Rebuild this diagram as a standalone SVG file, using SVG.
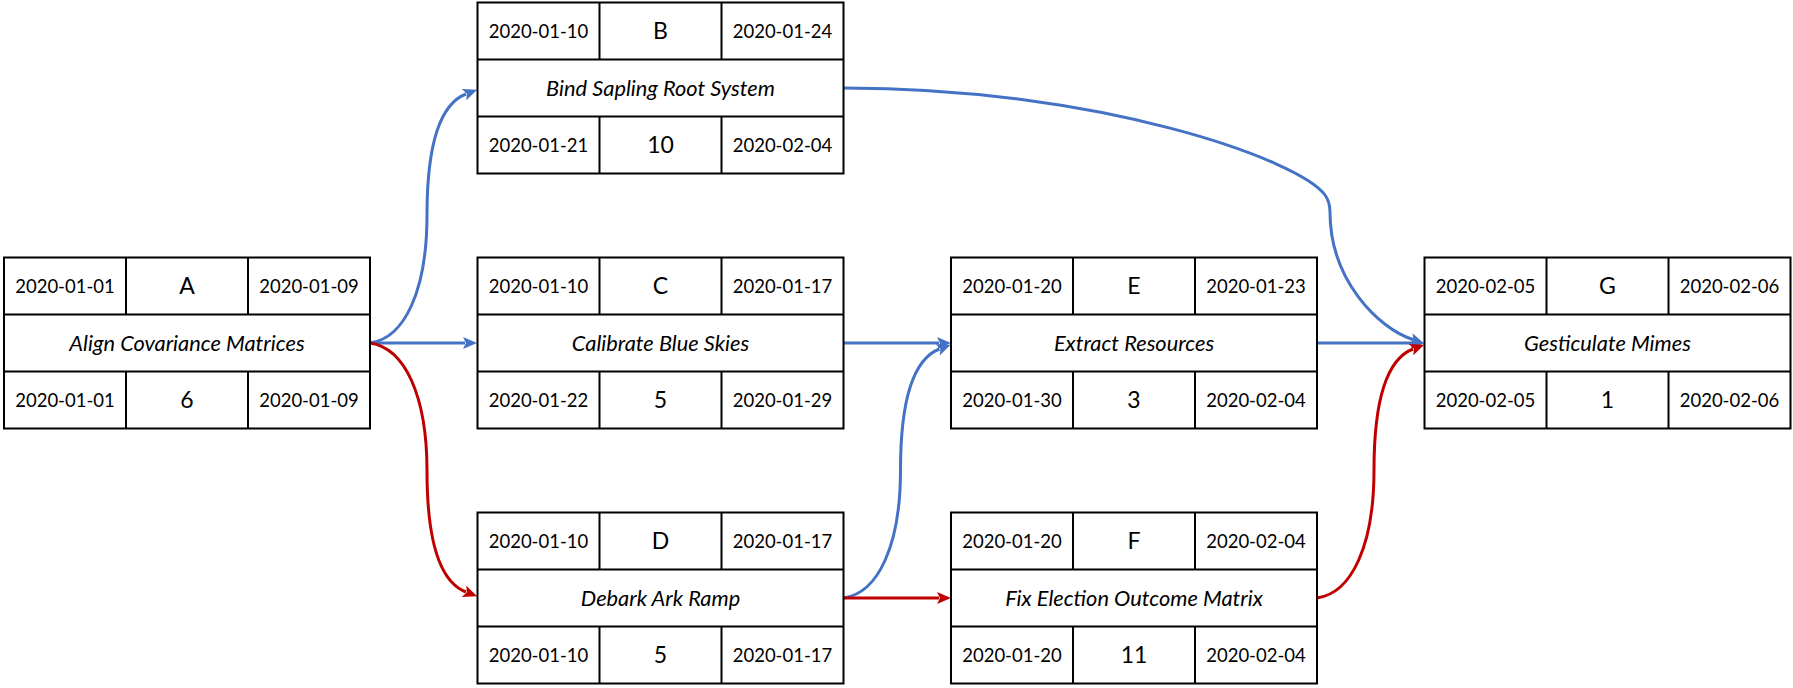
<svg xmlns="http://www.w3.org/2000/svg" width="1793" height="688" viewBox="0 0 1793 688">
<style>
.box{fill:#fff;stroke:#000;stroke-width:2}
.ln{stroke:#000;stroke-width:2}
.d{font-family:Lato,"Liberation Sans",sans-serif;font-size:18.5px;fill:#000;text-anchor:middle}
.k{font-family:Lato,"Liberation Sans",sans-serif;font-size:23px;fill:#000;text-anchor:middle}
.n{font-family:Lato,"Liberation Sans",sans-serif;font-size:21.8px;font-style:italic;fill:#000;text-anchor:middle}
.blue{fill:none;stroke:#4472C4;stroke-width:3}
.red{fill:none;stroke:#C00000;stroke-width:3}
</style>
<defs>
<marker id="ab" markerUnits="userSpaceOnUse" markerWidth="14" markerHeight="12" refX="2" refY="6" orient="auto" viewBox="0 0 14 12">
<path d="M0,0 L14,6 L0,12 L3,6 Z" fill="#4472C4"/>
</marker>
<marker id="ar" markerUnits="userSpaceOnUse" markerWidth="14" markerHeight="12" refX="2" refY="6" orient="auto" viewBox="0 0 14 12">
<path d="M0,0 L14,6 L0,12 L3,6 Z" fill="#C00000"/>
</marker>
</defs>
<g id="connectors">
<path class="blue" marker-end="url(#ab)" d="M370,343 C405,338 427,290 427,215 C427,145 440,104 466,94"/>
<path class="blue" marker-end="url(#ab)" d="M370,343 L465,343"/>
<path class="red" marker-end="url(#ar)" d="M370,343 C405,348 427,396 427,471 C427,541 440,582 466,592"/>
<path class="blue" marker-end="url(#ab)" d="M843.5,88 C1100,88 1300,160 1325,195 Q1330,202 1330,212 C1330,280 1378,328 1412.5,339.5"/>
<path class="blue" marker-end="url(#ab)" d="M843.5,343 L939,343"/>
<path class="blue" marker-end="url(#ab)" d="M843.5,598 C878.5,593 900.5,545 900.5,470 C900.5,400 913.5,359 939.5,349"/>
<path class="red" marker-end="url(#ar)" d="M843.5,598 L939,598"/>
<path class="blue" marker-end="url(#ab)" d="M1317,343 L1412.5,343"/>
<path class="red" marker-end="url(#ar)" d="M1317,598 C1352,593 1374,545 1374,470 C1374,400 1387,359 1413,349"/>
</g>
<g id="node-A" transform="translate(4,257.5)">
<rect class="box" width="366" height="171"/>
<line class="ln" x1="0" y1="57" x2="366" y2="57"/><line class="ln" x1="0" y1="114" x2="366" y2="114"/>
<line class="ln" x1="122" y1="0" x2="122" y2="57"/><line class="ln" x1="244" y1="0" x2="244" y2="57"/>
<line class="ln" x1="122" y1="114" x2="122" y2="171"/><line class="ln" x1="244" y1="114" x2="244" y2="171"/>
<text class="d" x="61" y="35.1">2020-01-01</text><text class="k" x="183" y="36.7">A</text><text class="d" x="305" y="35.1">2020-01-09</text>
<text class="n" x="183" y="93">Align Covariance Matrices</text>
<text class="d" x="61" y="149.1">2020-01-01</text><text class="k" x="183" y="150.7">6</text><text class="d" x="305" y="149.1">2020-01-09</text>
</g>
<g id="node-B" transform="translate(477.5,2.5)">
<rect class="box" width="366" height="171"/>
<line class="ln" x1="0" y1="57" x2="366" y2="57"/><line class="ln" x1="0" y1="114" x2="366" y2="114"/>
<line class="ln" x1="122" y1="0" x2="122" y2="57"/><line class="ln" x1="244" y1="0" x2="244" y2="57"/>
<line class="ln" x1="122" y1="114" x2="122" y2="171"/><line class="ln" x1="244" y1="114" x2="244" y2="171"/>
<text class="d" x="61" y="35.1">2020-01-10</text><text class="k" x="183" y="36.7">B</text><text class="d" x="305" y="35.1">2020-01-24</text>
<text class="n" x="183" y="93">Bind Sapling Root System</text>
<text class="d" x="61" y="149.1">2020-01-21</text><text class="k" x="183" y="150.7">10</text><text class="d" x="305" y="149.1">2020-02-04</text>
</g>
<g id="node-C" transform="translate(477.5,257.5)">
<rect class="box" width="366" height="171"/>
<line class="ln" x1="0" y1="57" x2="366" y2="57"/><line class="ln" x1="0" y1="114" x2="366" y2="114"/>
<line class="ln" x1="122" y1="0" x2="122" y2="57"/><line class="ln" x1="244" y1="0" x2="244" y2="57"/>
<line class="ln" x1="122" y1="114" x2="122" y2="171"/><line class="ln" x1="244" y1="114" x2="244" y2="171"/>
<text class="d" x="61" y="35.1">2020-01-10</text><text class="k" x="183" y="36.7">C</text><text class="d" x="305" y="35.1">2020-01-17</text>
<text class="n" x="183" y="93">Calibrate Blue Skies</text>
<text class="d" x="61" y="149.1">2020-01-22</text><text class="k" x="183" y="150.7">5</text><text class="d" x="305" y="149.1">2020-01-29</text>
</g>
<g id="node-D" transform="translate(477.5,512.5)">
<rect class="box" width="366" height="171"/>
<line class="ln" x1="0" y1="57" x2="366" y2="57"/><line class="ln" x1="0" y1="114" x2="366" y2="114"/>
<line class="ln" x1="122" y1="0" x2="122" y2="57"/><line class="ln" x1="244" y1="0" x2="244" y2="57"/>
<line class="ln" x1="122" y1="114" x2="122" y2="171"/><line class="ln" x1="244" y1="114" x2="244" y2="171"/>
<text class="d" x="61" y="35.1">2020-01-10</text><text class="k" x="183" y="36.7">D</text><text class="d" x="305" y="35.1">2020-01-17</text>
<text class="n" x="183" y="93">Debark Ark Ramp</text>
<text class="d" x="61" y="149.1">2020-01-10</text><text class="k" x="183" y="150.7">5</text><text class="d" x="305" y="149.1">2020-01-17</text>
</g>
<g id="node-E" transform="translate(951,257.5)">
<rect class="box" width="366" height="171"/>
<line class="ln" x1="0" y1="57" x2="366" y2="57"/><line class="ln" x1="0" y1="114" x2="366" y2="114"/>
<line class="ln" x1="122" y1="0" x2="122" y2="57"/><line class="ln" x1="244" y1="0" x2="244" y2="57"/>
<line class="ln" x1="122" y1="114" x2="122" y2="171"/><line class="ln" x1="244" y1="114" x2="244" y2="171"/>
<text class="d" x="61" y="35.1">2020-01-20</text><text class="k" x="183" y="36.7">E</text><text class="d" x="305" y="35.1">2020-01-23</text>
<text class="n" x="183" y="93">Extract Resources</text>
<text class="d" x="61" y="149.1">2020-01-30</text><text class="k" x="183" y="150.7">3</text><text class="d" x="305" y="149.1">2020-02-04</text>
</g>
<g id="node-F" transform="translate(951,512.5)">
<rect class="box" width="366" height="171"/>
<line class="ln" x1="0" y1="57" x2="366" y2="57"/><line class="ln" x1="0" y1="114" x2="366" y2="114"/>
<line class="ln" x1="122" y1="0" x2="122" y2="57"/><line class="ln" x1="244" y1="0" x2="244" y2="57"/>
<line class="ln" x1="122" y1="114" x2="122" y2="171"/><line class="ln" x1="244" y1="114" x2="244" y2="171"/>
<text class="d" x="61" y="35.1">2020-01-20</text><text class="k" x="183" y="36.7">F</text><text class="d" x="305" y="35.1">2020-02-04</text>
<text class="n" x="183" y="93">Fix Election Outcome Matrix</text>
<text class="d" x="61" y="149.1">2020-01-20</text><text class="k" x="183" y="150.7">11</text><text class="d" x="305" y="149.1">2020-02-04</text>
</g>
<g id="node-G" transform="translate(1424.5,257.5)">
<rect class="box" width="366" height="171"/>
<line class="ln" x1="0" y1="57" x2="366" y2="57"/><line class="ln" x1="0" y1="114" x2="366" y2="114"/>
<line class="ln" x1="122" y1="0" x2="122" y2="57"/><line class="ln" x1="244" y1="0" x2="244" y2="57"/>
<line class="ln" x1="122" y1="114" x2="122" y2="171"/><line class="ln" x1="244" y1="114" x2="244" y2="171"/>
<text class="d" x="61" y="35.1">2020-02-05</text><text class="k" x="183" y="36.7">G</text><text class="d" x="305" y="35.1">2020-02-06</text>
<text class="n" x="183" y="93">Gesticulate Mimes</text>
<text class="d" x="61" y="149.1">2020-02-05</text><text class="k" x="183" y="150.7">1</text><text class="d" x="305" y="149.1">2020-02-06</text>
</g>
</svg>
